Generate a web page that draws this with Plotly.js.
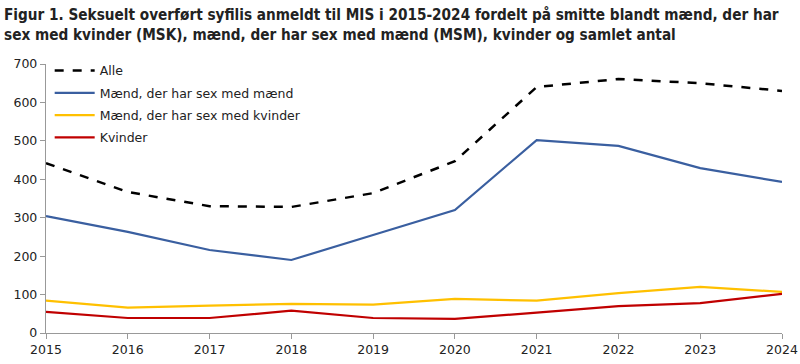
<!DOCTYPE html>
<html><head><meta charset="utf-8">
<script src="https://cdn.plot.ly/plotly-3.0.1.min.js"></script>
<style>body{margin:0;padding:0;background:#fff}#chart{width:800px;height:364px}</style>
</head><body><div id="chart"></div>
<script>
const years = [2015, 2016, 2017, 2018, 2019, 2020, 2021, 2022, 2023, 2024];
const alle = [442, 367, 330, 328, 364, 447, 640, 661, 650, 630];
const msm = [304, 263, 216, 190, 255, 320, 502, 487, 429, 393];
const msk = [84, 66, 71, 76, 74, 89, 84, 104, 120, 107];
const kvinder = [55, 39, 39, 58, 39, 37, 53, 70, 78, 102];
const names = ["Alle", "Mænd, der har sex med mænd", "Mænd, der har sex med kvinder", "Kvinder"];
const titleText = "Figur 1. Seksuelt overført syfilis anmeldt til MIS i 2015-2024 fordelt på smitte blandt mænd, der har<br>sex med kvinder (MSK), mænd, der har sex med mænd (MSM), kvinder og samlet antal";

const traces = [
  {x: years, y: alle, name: names[0], legendgroup: "a", mode: "lines", line: {color: "#000000", width: 2.5, dash: "dash"}},
  {x: years, y: msm, name: names[1], legendgroup: "b", mode: "lines", line: {color: "#3A5FA0", width: 2.2}},
  {x: years, y: msk, name: names[2], legendgroup: "c", mode: "lines", line: {color: "#FFC000", width: 2.2}},
  {x: years, y: kvinder, name: names[3], legendgroup: "d", mode: "lines", line: {color: "#C00000", width: 2.2}}
];
const layout = {
  width: 800, height: 364,
  margin: {l: 46, r: 18, t: 64, b: 31},
  paper_bgcolor: "#fff", plot_bgcolor: "#fff",
  font: {family: "DejaVu Sans, sans-serif", size: 12, color: "#222"},
  title: {text: titleText, x: 0.005, xanchor: "left", y: 0.945, yanchor: "middle",
          font: {family: "DejaVu Sans Condensed, DejaVu Sans, sans-serif", size: 15.2, color: "#222", weight: "bold", stretch: "condensed"}},
  xaxis: {range: [2015, 2024], tickvals: years, ticktext: years.map(String), showgrid: false, zeroline: false,
          showline: true, linecolor: "#999", linewidth: 1.2, ticks: "outside", ticklen: 5, tickcolor: "#999",
          tickfont: {size: 12.5, color: "#222"}},
  yaxis: {range: [0, 700], dtick: 100, showgrid: false, zeroline: false,
          showline: true, linecolor: "#999", linewidth: 1.2, ticks: "outside", ticklen: 5, tickcolor: "#999",
          tickfont: {size: 12.5, color: "#222"}},
  legend: {x: 0.005, y: 1.03, xanchor: "left", yanchor: "top", bgcolor: "rgba(0,0,0,0)",
           font: {size: 12.5, color: "#222"}, traceorder: "grouped", tracegroupgap: 3, itemwidth: 40},
  showlegend: true
};
Plotly.newPlot("chart", traces, layout, {displayModeBar: false, staticPlot: true});
</script></body></html>
